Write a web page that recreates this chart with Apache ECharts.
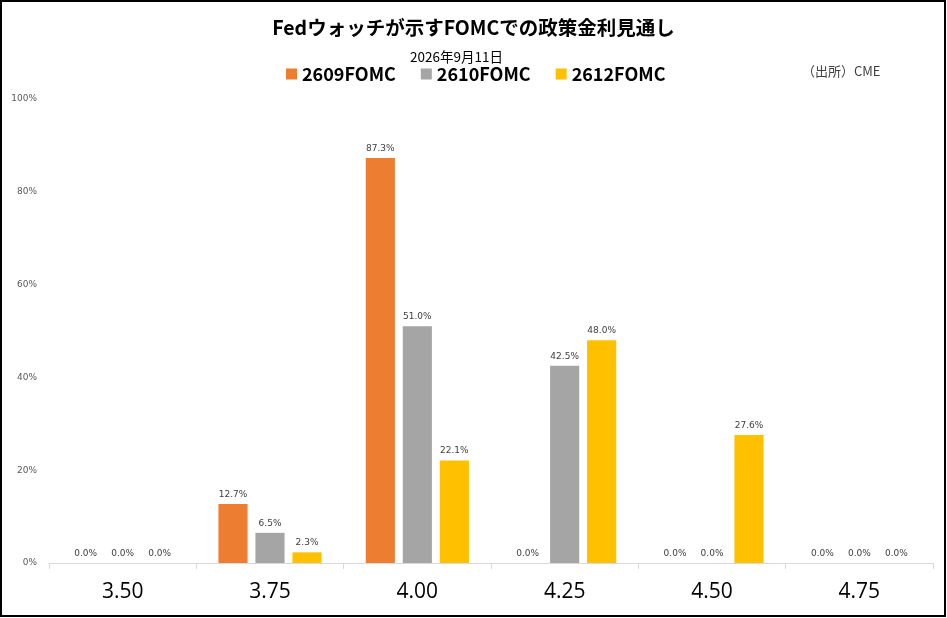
<!DOCTYPE html>
<html>
<head>
<meta charset="utf-8">
<script src="https://cdn.jsdelivr.net/npm/echarts@6/dist/echarts.min.js"></script>
<style>
  html, body { margin: 0; padding: 0; background: #fff; }
  #main { width: 947px; height: 618px; }
</style>
</head>
<body>
<div id="main"></div>
<script>
// 政策金利 (誘導目標の上限)
const rates = ['3.50', '3.75', '4.00', '4.25', '4.50', '4.75'];
// 各FOMCでの確率 (%)
const fomc2609 = [0.0, 12.7, 87.3, 0.0, 0.0, 0.0];
const fomc2610 = [0.0, 6.5, 51.0, 42.5, 0.0, 0.0];
const fomc2612 = [0.0, 2.3, 22.1, 48.0, 27.6, 0.0];
const seriesNames = ['2609FOMC', '2610FOMC', '2612FOMC'];
const colors = ['#ED7D31', '#A5A5A5', '#FFC000'];

const jp = '"Noto Sans CJK JP", sans-serif';

const chart = echarts.init(document.getElementById('main'));

const labelOpt = {
    show: true,
    position: 'top',
    distance: 5,
    fontSize: 9,
    color: '#404040',
    fontFamily: 'DejaVu Sans',
    formatter: p => p.value.toFixed(1) + '%'
};

const option = {
    backgroundColor: '#fff',
    animation: false,
    color: colors,
    title: [
        {
            text: 'Fedウォッチが示すFOMCでの政策金利見通し',
            left: 'center',
            top: 13,
            textStyle: {fontSize: 19.5, fontWeight: 'bold', color: '#000', fontFamily: jp}
        },
        {
            text: '2026年9月11日',
            left: 405,
            top: 45,
            textStyle: {fontSize: 13.5, fontWeight: 'normal', color: '#000', fontFamily: jp}
        },
        {
            text: '（出所）CME',
            left: 797,
            top: 60,
            textStyle: {fontSize: 13, fontWeight: 'normal', color: '#404040', fontFamily: jp}
        }
    ],
    legend: {
        data: seriesNames,
        left: 281,
        top: 60,
        itemWidth: 11,
        itemHeight: 11,
        itemGap: 25,
        icon: 'rect',
        textStyle: {fontSize: 18, fontWeight: 'bold', color: '#000', fontFamily: jp}
    },
    grid: {left: 49, right: 14, top: 99, bottom: 55},
    xAxis: {
        type: 'category',
        data: rates,
        axisLine: {lineStyle: {color: '#D9D9D9', width: 1}},
        axisTick: {show: true, length: 6, lineStyle: {color: '#D9D9D9'}},
        axisLabel: {fontSize: 21, color: '#000', margin: 19, fontFamily: 'Open Sans'}
    },
    yAxis: {
        type: 'value',
        min: 0,
        max: 100,
        interval: 20,
        splitLine: {show: false},
        axisLine: {show: false},
        axisTick: {show: false},
        axisLabel: {fontSize: 9, color: '#595959', margin: 12, formatter: '{value}%', fontFamily: 'DejaVu Sans'}
    },
    series: [
        {name: seriesNames[0], type: 'bar', data: fomc2609, barGap: '27%', barCategoryGap: '30%', label: labelOpt},
        {name: seriesNames[1], type: 'bar', data: fomc2610, barGap: '27%', barCategoryGap: '30%', label: labelOpt},
        {name: seriesNames[2], type: 'bar', data: fomc2612, barGap: '27%', barCategoryGap: '30%', label: labelOpt}
    ],
    graphic: [
        {
            type: 'rect',
            shape: {x: 1, y: 1, width: 944, height: 615},
            style: {fill: 'none', stroke: '#000', lineWidth: 2},
            silent: true
        }
    ]
};

chart.setOption(option);
</script>
</body>
</html>
